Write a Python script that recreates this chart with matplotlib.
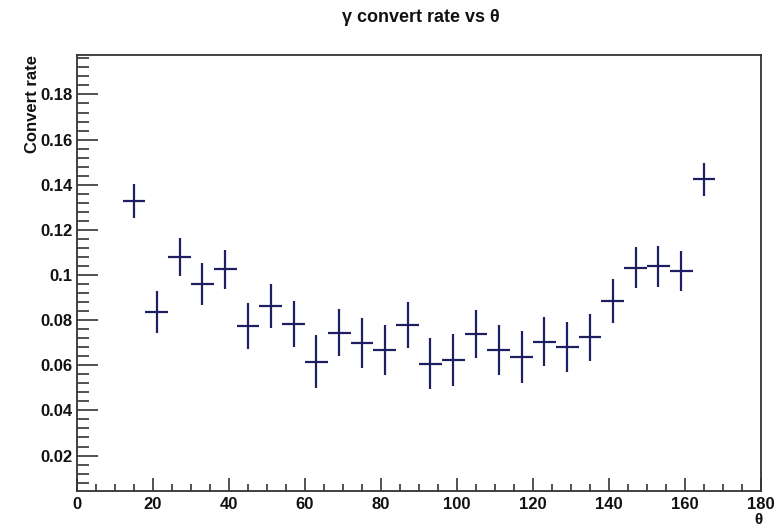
import numpy as np
import matplotlib
matplotlib.use("Agg")
import matplotlib.pyplot as plt
from matplotlib.ticker import MultipleLocator, FuncFormatter

# 6-degree bins, centres 15..165
theta = [15, 21, 27, 33, 39, 45, 51, 57, 63, 69, 75, 81, 87,
         93, 99, 105, 111, 117, 123, 129, 135, 141, 147, 153, 159, 165]
rate = [0.1328, 0.0836, 0.1080, 0.0959, 0.1025, 0.0776, 0.0861, 0.0782,
        0.0616, 0.0745, 0.0698, 0.0668, 0.0779, 0.0607, 0.0624, 0.0739,
        0.0668, 0.0636, 0.0705, 0.0680, 0.0724, 0.0884, 0.1033, 0.1039,
        0.1018, 0.1425]
rate_err = [0.0077, 0.0094, 0.0086, 0.0093, 0.0088, 0.0102, 0.0098, 0.0101,
            0.0116, 0.0103, 0.0111, 0.0110, 0.0101, 0.0113, 0.0116, 0.0105,
            0.0111, 0.0115, 0.0107, 0.0110, 0.0103, 0.0098, 0.0089, 0.0090,
            0.0087, 0.0073]
bin_half = 3.0

FONT = ["Liberation Sans Narrow", "Liberation Sans", "DejaVu Sans"]
plt.rcParams["font.family"] = FONT
plt.rcParams["font.weight"] = "bold"

fig = plt.figure(figsize=(7.79, 5.28), dpi=100)
ax = fig.add_axes([0.0988, 0.0701, 0.8781, 0.8258])

ax.errorbar(theta, rate, yerr=rate_err, xerr=bin_half, fmt="none",
            ecolor="#1e1e64", elinewidth=1.6, capsize=0)

ax.set_xlim(0, 180)
ax.set_ylim(0.0043, 0.1975)

ax.xaxis.set_major_locator(MultipleLocator(20))
ax.xaxis.set_minor_locator(MultipleLocator(5))
ax.yaxis.set_major_locator(MultipleLocator(0.02))
ax.yaxis.set_minor_locator(MultipleLocator(0.004))
fmt = FuncFormatter(lambda v, pos: f"{v:g}")
ax.xaxis.set_major_formatter(fmt)
ax.yaxis.set_major_formatter(fmt)

ax.tick_params(axis="both", which="both", direction="in", top=False,
               right=False, colors="#222222", width=1.1, labelsize=12,
               labelcolor="#111111")
ax.tick_params(axis="x", which="major", length=9.5, pad=4)
ax.tick_params(axis="x", which="minor", length=5)
ax.tick_params(axis="y", which="major", length=15, pad=3)
ax.tick_params(axis="y", which="minor", length=8.5)
for lbl in ax.get_xticklabels() + ax.get_yticklabels():
    lbl.set_fontweight("bold")

for side in ax.spines.values():
    side.set_linewidth(1.3)
    side.set_color("#333333")

fig.text(0.54, 0.967, "\u03b3 convert rate vs \u03b8", ha="center", va="center",
         fontsize=13, fontweight="bold", color="#111111")
fig.text(0.042, 0.896, "Convert rate", rotation=90, ha="center", va="top",
         fontsize=12, fontweight="bold", color="#111111")
fig.text(0.973, 0.016, "\u03b8", ha="center", va="center",
         fontsize=11, fontweight="bold", color="#111111")

fig.savefig("out.png", dpi=100)
